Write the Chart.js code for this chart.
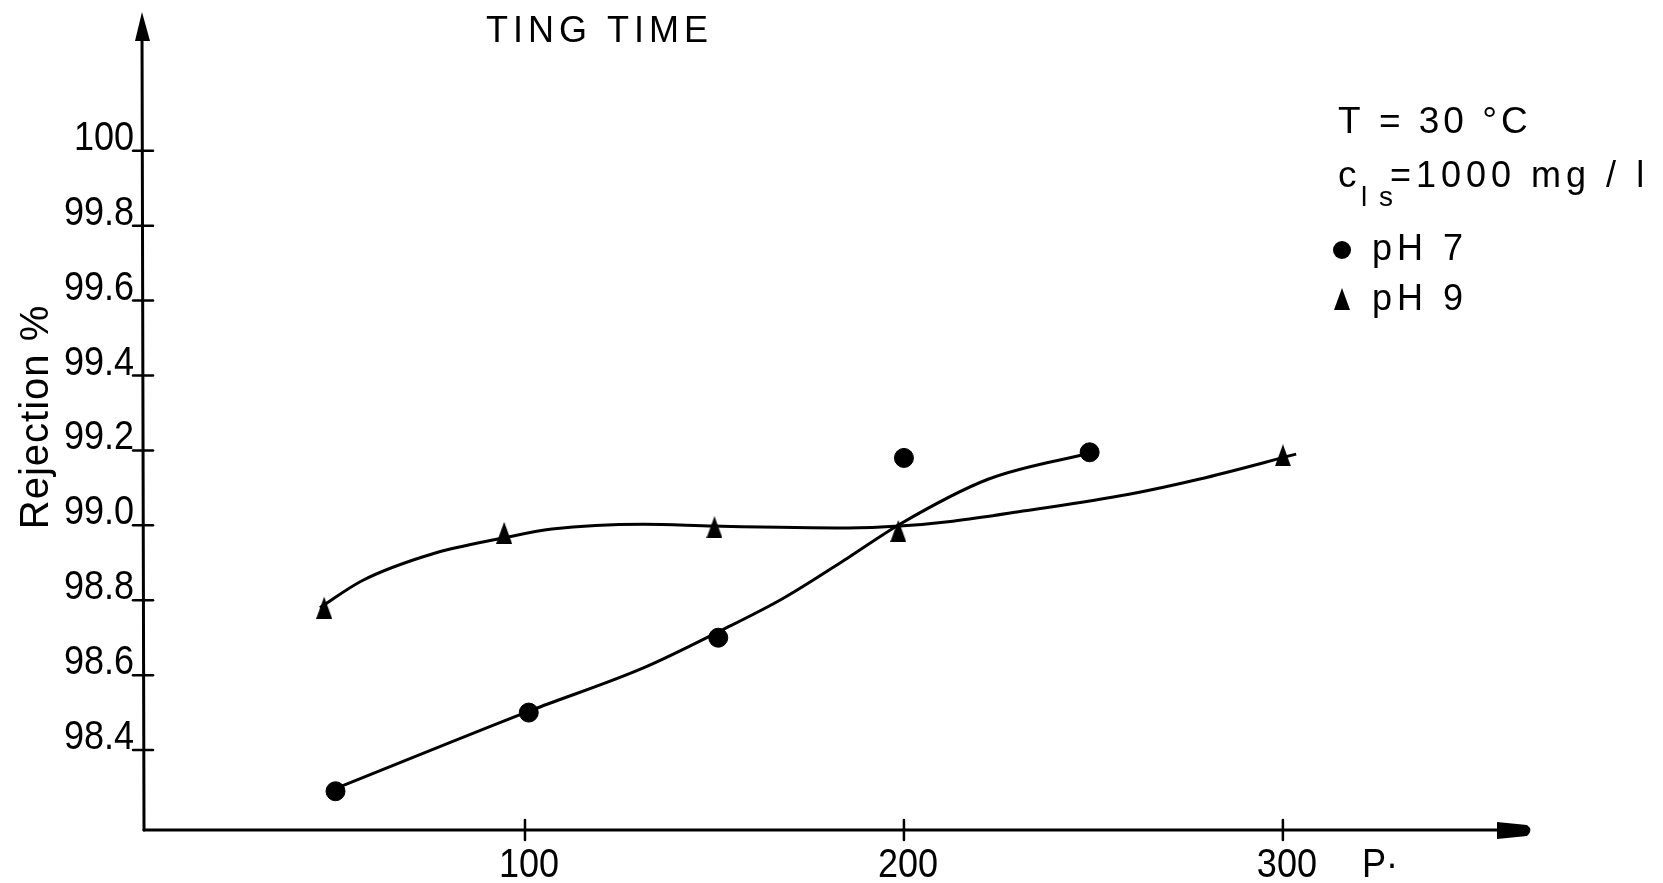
<!DOCTYPE html>
<html>
<head>
<meta charset="utf-8">
<script src="https://cdn.jsdelivr.net/npm/chart.js@4"></script>
<style>
  html, body { margin: 0; padding: 0; background: #fff; }
  #wrap { width: 1663px; height: 883px; position: relative; }
</style>
</head>
<body>
<div id="wrap"><canvas id="grafico"></canvas></div>
<script>
// tick values / labels
const xTicks = [100, 200, 300];
const yTicks = [98.4, 98.6, 98.8, 99.0, 99.2, 99.4, 99.6, 99.8, 100];
const yTickLabels = ["98.4", "98.6", "98.8", "99.0", "99.2", "99.4", "99.6", "99.8", "100"];

// measured points
const ph7X = [50, 101, 151, 200, 249];
const ph7Y = [98.29, 98.50, 98.70, 99.18, 99.195];
const ph9X = [47, 94.5, 150, 198.5, 300];
const ph9Y = [98.78, 98.98, 98.995, 98.985, 99.187];

// hand-drawn fit curves
const ph7CurveX = [50.7, 101.6, 131.4, 151.7, 168.3, 185.2, 198.9, 222.2, 251];
const ph7CurveY = [98.30, 98.506, 98.62, 98.719, 98.806, 98.913, 99.003, 99.123, 99.197];
const ph9CurveX = [45.9, 57.0, 75.7, 94.2, 107.1, 131.4, 149.9, 185.2, 198.9, 212.9, 231.4, 259.4, 277.8, 303.5];
const ph9CurveY = [98.78, 98.852, 98.924, 98.966, 98.99, 99.003, 98.998, 98.993, 98.998, 99.011, 99.038, 99.083, 99.123, 99.19];

const pares = (xs, ys) => xs.map((x, i) => ({ x: x, y: ys[i] }));

const FONTE = "'Liberation Sans', Arial, sans-serif";

function texto(ctx, s, x, y, tam, opts) {
    opts = opts || {};
    ctx.save();
    ctx.font = tam + "px " + FONTE;
    ctx.fillStyle = "#000";
    ctx.textAlign = opts.align || "left";
    ctx.textBaseline = "alphabetic";
    ctx.letterSpacing = (opts.ls || 0) + "px";
    ctx.translate(x, y);
    if (opts.rot) ctx.rotate(opts.rot);
    if (opts.sx) ctx.scale(opts.sx, 1);
    ctx.fillText(s, 0, 0);
    ctx.restore();
}

// narrow triangle like the hand-inked markers
function triangulo(w, h) {
    const c = document.createElement("canvas");
    c.width = w;
    c.height = h;
    const g = c.getContext("2d");
    g.fillStyle = "#000";
    g.beginPath();
    g.moveTo(w / 2, 0);
    g.lineTo(w, h);
    g.lineTo(0, h);
    g.closePath();
    g.fill();
    return c;
}
const marcaTri = triangulo(16, 22);

const eixos = {
    id: "eixos",
    beforeDatasetsDraw(chart) {
        const ctx = chart.ctx;
        const xs = chart.scales.x, ys = chart.scales.y;
        const x0 = xs.left, yb = ys.bottom;
        ctx.save();
        ctx.strokeStyle = "#000";
        ctx.fillStyle = "#000";
        ctx.lineWidth = 3;
        ctx.lineCap = "round";

        // y axis + arrow
        ctx.beginPath();
        ctx.moveTo(x0 + 1, yb);
        ctx.lineTo(x0 - 1, ys.top + 20);
        ctx.stroke();
        ctx.beginPath();
        ctx.moveTo(x0 - 1, ys.top);
        ctx.lineTo(x0 + 7, ys.top + 29);
        ctx.lineTo(x0 - 8, ys.top + 29);
        ctx.closePath();
        ctx.fill();

        // x axis + arrow
        ctx.beginPath();
        ctx.moveTo(x0 + 1, yb);
        ctx.lineTo(xs.right - 30, yb);
        ctx.stroke();
        ctx.beginPath();
        ctx.moveTo(xs.right - 36, yb - 8);
        ctx.lineTo(xs.right - 6, yb - 5);
        ctx.quadraticCurveTo(xs.right + 1, yb, xs.right - 6, yb + 6);
        ctx.lineTo(xs.right - 36, yb + 9);
        ctx.closePath();
        ctx.fill();

        // y ticks
        ctx.lineWidth = 2.5;
        yTicks.forEach((v, i) => {
            const py = ys.getPixelForValue(v);
            ctx.beginPath();
            ctx.moveTo(x0 - 10, py);
            ctx.lineTo(x0 + 10, py);
            ctx.stroke();
            texto(ctx, yTickLabels[i], x0 - 9, py - 1, 40, { align: "right", sx: 0.9 });
        });
        // x ticks
        xTicks.forEach(v => {
            const px = xs.getPixelForValue(v);
            ctx.beginPath();
            ctx.moveTo(px, yb - 10);
            ctx.lineTo(px, yb + 10);
            ctx.stroke();
            texto(ctx, String(v), px + 4, yb + 47, 40, { align: "center", sx: 0.9 });
        });
        ctx.restore();
    },
    afterDraw(chart) {
        const ctx = chart.ctx;
        // title fragment
        texto(ctx, "TING TIME", 486, 42, 36, { ls: 5 });
        // axis labels
        texto(ctx, "P·", 1362, 877, 40, { sx: 0.9 });
        texto(ctx, "Rejection %", 48, 417, 40, { align: "center", rot: -Math.PI / 2, ls: 1 });
        // conditions box
        texto(ctx, "T = 30 °C", 1338, 133, 37, { ls: 4 });
        texto(ctx, "c", 1338, 187, 37);
        texto(ctx, "l s", 1361, 206, 28, { ls: 2 });
        texto(ctx, "=1000 mg / l", 1390, 187, 36, { ls: 5 });
        // legend
        ctx.save();
        ctx.fillStyle = "#000";
        ctx.beginPath();
        ctx.arc(1342, 250, 9, 0, Math.PI * 2);
        ctx.fill();
        ctx.drawImage(marcaTri, 1334, 288);
        ctx.restore();
        texto(ctx, "pH 7", 1372, 260, 36, { ls: 5 });
        texto(ctx, "pH 9", 1372, 310, 36, { ls: 5 });
    }
};

new Chart(document.getElementById("grafico"), {
    type: "scatter",
    data: {
        datasets: [
            {
                label: "pH 7 curve",
                data: pares(ph7CurveX, ph7CurveY),
                showLine: true,
                borderColor: "#000",
                borderWidth: 3,
                pointRadius: 0,
                cubicInterpolationMode: "monotone"
            },
            {
                label: "pH 9 curve",
                data: pares(ph9CurveX, ph9CurveY),
                showLine: true,
                borderColor: "#000",
                borderWidth: 3,
                pointRadius: 0,
                cubicInterpolationMode: "monotone"
            },
            {
                label: "pH 7",
                data: pares(ph7X, ph7Y),
                pointStyle: "circle",
                pointRadius: 9.5,
                backgroundColor: "#000",
                borderColor: "#000"
            },
            {
                label: "pH 9",
                data: pares(ph9X, ph9Y),
                pointStyle: marcaTri,
                pointRadius: 11,
                backgroundColor: "#000",
                borderColor: "#000"
            }
        ]
    },
    options: {
        responsive: true,
        maintainAspectRatio: false,
        animation: false,
        layout: { padding: { left: 143, right: 130, top: 9, bottom: 53 } },
        plugins: { legend: { display: false }, tooltip: { enabled: false } },
        scales: {
            x: { type: "linear", min: -0.8, max: 366, display: false },
            y: { type: "linear", min: 98.1865, max: 100.3706, display: false }
        }
    },
    plugins: [eixos]
});
</script>
</body>
</html>
